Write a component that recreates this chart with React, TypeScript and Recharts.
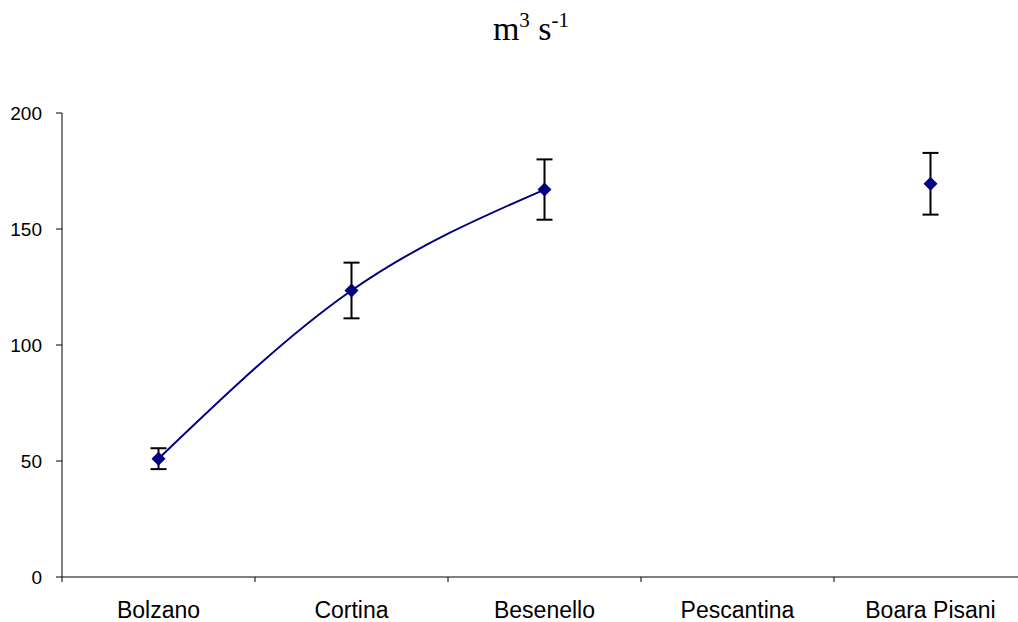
import { LineChart, Line, XAxis, YAxis, ErrorBar } from 'recharts';

const stations = ['Bolzano', 'Cortina', 'Besenello', 'Pescantina', 'Boara Pisani'];
const discharge: (number | null)[] = [51, 123.5, 167, null, 169.5];
const discharge_err: (number | null)[] = [4.5, 12, 13, null, 13.3];
const yTicks = [0, 50, 100, 150, 200];

// stations sit at band centres (0.5, 1.5, ...) so tick marks fall between them
const data = stations.map((name, i) => ({
  name,
  pos: i + 0.5,
  q: discharge[i],
  err: discharge_err[i],
}));

const boundaryTicks = stations.map((_, i) => i).concat(stations.length);
const centreTicks = data.map((d) => d.pos);

const NAVY = '#000080';

const Diamond = (props: any) => {
  const { cx, cy, index } = props;
  if (cx == null || cy == null || props.value == null) return <g key={`d-${index}`} />;
  const r = 7;
  return (
    <polygon
      key={`d-${index}`}
      points={`${cx},${cy - r} ${cx + r},${cy} ${cx},${cy + r} ${cx - r},${cy}`}
      fill={NAVY}
    />
  );
};

const App = () => {
  return (
    <div
      style={{
        position: 'absolute',
        left: 0,
        top: 0,
        width: 1018,
        height: 622,
        overflow: 'hidden',
        background: '#fff',
      }}
    >
      <div
        style={{
          position: 'absolute',
          left: 431,
          width: 200,
          top: 9,
          textAlign: 'center',
          fontFamily: '"Liberation Serif", "Times New Roman", serif',
          fontSize: 34,
          color: '#000',
          lineHeight: '40px',
        }}
      >
        m<span style={{ fontSize: 21, position: 'relative', top: -13 }}>3</span>
        {' '}s<span style={{ fontSize: 21, position: 'relative', top: -13 }}>-1</span>
      </div>
      <LineChart
        width={1040}
        height={622}
        data={data}
        margin={{ top: 113, right: 13, bottom: 0, left: 0 }}
      >
        <XAxis
          dataKey="pos"
          type="number"
          domain={[0, stations.length]}
          ticks={boundaryTicks}
          interval={0}
          tickFormatter={() => ''}
          tickSize={5}
          height={1}
          stroke="#000"
        />
        <XAxis
          xAxisId="names"
          dataKey="pos"
          type="number"
          domain={[0, stations.length]}
          ticks={centreTicks}
          interval={0}
          tickFormatter={(v: number) => stations[Math.floor(v)]}
          axisLine={false}
          tickLine={false}
          tickSize={0}
          tickMargin={24}
          height={44}
          tick={{ fontFamily: '"Liberation Sans", Arial, sans-serif', fontSize: 23, fill: '#000' }}
        />
        <YAxis
          domain={[0, 200]}
          ticks={yTicks}
          interval={0}
          width={62}
          tickSize={6}
          tickMargin={14}
          stroke="#000"
          tick={{ fontFamily: '"Liberation Sans", Arial, sans-serif', fontSize: 19, fill: '#000' }}
        />
        <Line
          dataKey="q"
          type="monotone"
          stroke={NAVY}
          strokeWidth={2}
          dot={Diamond}
          activeDot={false}
          connectNulls={false}
          isAnimationActive={false}
        >
          <ErrorBar dataKey="err" direction="y" width={8} strokeWidth={2} stroke="#000" isAnimationActive={false} />
        </Line>
      </LineChart>
    </div>
  );
};

export default App;
